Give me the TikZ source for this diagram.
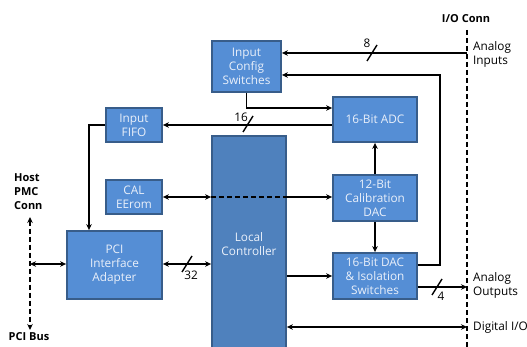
\documentclass[tikz,border=0pt]{standalone}
\usepackage{fontspec}
\setmainfont{Open Sans}
\usetikzlibrary{arrows.meta,calc}
\definecolor{blkfill}{HTML}{558ED5}
\definecolor{ctrlfill}{HTML}{4F81BD}
\definecolor{blkline}{HTML}{385D8A}
\definecolor{blktext}{HTML}{EAF0FA}
\begin{document}
\begin{tikzpicture}[x=1pt,y=-1pt,
    blk/.style={draw=blkline,line width=1.8pt,fill=blkfill,text=blktext,align=center,
      inner sep=0pt,font=\fontsize{11.8}{14}\selectfont},
    conn/.style={line width=1.6pt,-{Stealth[length=6pt,width=5.5pt]}},
    bidir/.style={line width=1.6pt,{Stealth[length=6pt,width=5.5pt]}-{Stealth[length=6pt,width=5.5pt]}},
    bus/.style={line width=1.4pt},
    lbl/.style={font=\fontsize{11.8}{14}\selectfont,align=left,inner sep=0pt},
    hdr/.style={font=\bfseries\fontsize{11}{14}\selectfont,align=left,inner sep=0pt}]
  \useasboundingbox (0,0) rectangle (527,347);
  % blocks
  \node[blk,minimum width=69pt,minimum height=51pt] (cfg) at (246.5,66.5) {Input\\Config\\Switches};
  \node[blk,minimum width=56pt,minimum height=34pt] (fifo) at (134,125) {Input\\FIFO};
  \node[blk,minimum width=84pt,minimum height=45pt] (adc) at (375,119.5) {16-Bit ADC};
  \node[blk,fill=ctrlfill,minimum width=74pt,minimum height=216pt] (ctrl) at (249,244) {Local\\Controller};
  \node[blk,minimum width=56pt,minimum height=34pt] (cal) at (134,197) {CAL\\EErom};
  \node[blk,minimum width=95pt,minimum height=68pt] (pci) at (114.5,265) {PCI\\Interface\\Adapter};
  \node[blk,minimum width=84pt,minimum height=46pt] (cdac) at (375,198) {12-Bit\\Calibration\\DAC};
  \node[blk,minimum width=84pt,minimum height=46pt] (dac) at (375,276) {16-Bit DAC\\\& Isolation\\Switches};
  % connectors
  \coordinate (io) at (467,30);
  \coordinate (ioend) at (467,347);
  \coordinate (ain) at (467,53);
  \coordinate (aout) at (467,287);
  \coordinate (dio) at (467,327);
  \coordinate (hosttop) at (30,217);
  \coordinate (hostbot) at (30,330);
  \draw[line width=1.6pt,dash pattern=on 5pt off 3pt] (io) -- (ioend);
  \draw[line width=1.4pt,dash pattern=on 5pt off 3pt,{Stealth[length=6pt,width=5.5pt]}-{Stealth[length=6pt,width=5.5pt]}] (hosttop) -- (hostbot);
  \draw[conn] (ain) -- (ain -| cfg.east);
  \draw[conn] ($(dac.east)+(0,-11)$) -- ++(22,0) |- ($(cfg.east)+(0,8.5)$);
  \draw[conn] (cfg.south) |- ($(adc.west)+(0,-11.5)$);
  \draw[conn] (adc.west |- fifo.east) -- (fifo.east);
  \draw[conn] (fifo.west) -| ($(pci.north)+(-25.5,0)$);
  \draw[bidir] (cal.east) -- (cal.east -| ctrl.west);
  \draw[line width=1.6pt,dash pattern=on 5pt off 3pt] (cal.east -| ctrl.west) -- (cal.east -| ctrl.east);
  \draw[conn] (cal.east -| ctrl.east) -- (cal.east -| cdac.west);
  \draw[conn] (cdac.north) -- (adc.south);
  \draw[conn] (cdac.south) -- (dac.north);
  \draw[bidir] ($(pci.east)+(0,-1)$) -- ($(pci.east -| ctrl.west)+(0,-1)$);
  \draw[conn] (dac.west -| ctrl.east) -- (dac.west);
  \draw[conn] (aout -| dac.east) -- (aout);
  \draw[bidir] (dio -| ctrl.east) -- (dio);
  \draw[bidir] ($(pci.west)+(0,-1)$) -- (30,264);
  % bus width marks
  \draw[bus] (367,61) -- (377,45);
  \node[lbl] (n8) at (367,43) {8};
  \draw[bus] (243,132) -- (253,116);
  \node[lbl] (n16) at (241,117) {16};
  \draw[bus] (182,272) -- (192,256);
  \node[lbl] (n32) at (191,275) {32};
  \draw[bus] (432,295) -- (442,279);
  \node[lbl] (n4) at (441,296) {4};
  % labels
  \node[hdr] (ioconn) at (466,19) {I/O Conn};
  \node[lbl,anchor=west] (ainl) at (473,54) {Analog\\Inputs};
  \node[lbl,anchor=west] (aoutl) at (473,285) {Analog\\Outputs};
  \node[lbl,anchor=west] (diol) at (473,327) {Digital I/O};
  \node[hdr,anchor=west] (host) at (14,192) {Host\\PMC\\Conn};
  \node[hdr] (pcibus) at (29,337) {PCI Bus};
\end{tikzpicture}
\end{document}
